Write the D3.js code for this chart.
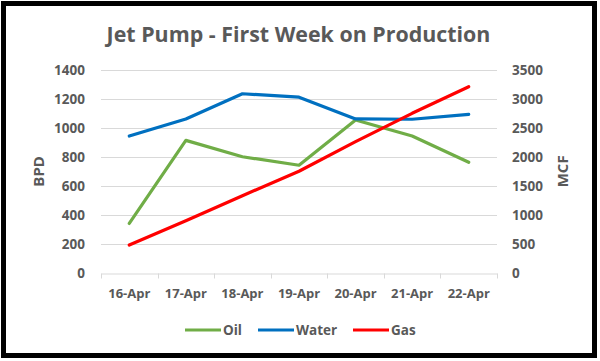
<!DOCTYPE html>
<html><head><meta charset="utf-8">
<script src="https://cdn.jsdelivr.net/npm/d3@7"></script>
<style>body{margin:0;background:#fff}svg{display:block}text{font-family:"Open Sans",sans-serif;font-weight:bold;fill:#595959}</style>
</head><body><svg id="c" width="600" height="361"></svg>
<script>
const categories = ["16-Apr","17-Apr","18-Apr","19-Apr","20-Apr","21-Apr","22-Apr"];
const oil = [340, 914, 801, 742, 1055, 944, 763];
const water = [944, 1062, 1236, 1212, 1062, 1060, 1094];
const gas = [478, 898, 1330, 1751, 2262, 2752, 3212];
const leftTicks = [0,200,400,600,800,1000,1200,1400];
const rightTicks = [0,500,1000,1500,2000,2500,3000,3500];
const title = "Jet Pump - First Week on Production";

const svg = d3.select("#c");
const L = 101, R = 497, T = 70, B = 272.7;
const x = d3.scaleBand().domain(categories).range([L, R]);
const yL = d3.scaleLinear().domain([0,1400]).range([B, T]);
const yR = d3.scaleLinear().domain([0,3500]).range([B, T]);

svg.append("rect").attr("x",3.5).attr("y",3.5).attr("width",591).attr("height",352)
  .attr("fill","#fff").attr("stroke","#000").attr("stroke-width",5);

svg.append("text").attr("x",298.5).attr("y",41.5).attr("text-anchor","middle")
  .attr("font-size",21.4).text(title);

// gridlines
svg.append("g").selectAll("line").data(leftTicks.filter(d=>d>0)).join("line")
  .attr("x1",L).attr("x2",R).attr("y1",d=>Math.round(yL(d))+0.5).attr("y2",d=>Math.round(yL(d))+0.5)
  .attr("stroke","#d9d9d9").attr("stroke-width",1);

// bottom axis
const xa = svg.append("g").attr("transform",`translate(0,${Math.round(B)+0.5})`)
  .call(d3.axisBottom(x).tickSize(0).tickPadding(15));
xa.select(".domain").attr("stroke","#d9d9d9");
xa.selectAll("text").attr("font-size",13).attr("font-family","Open Sans").attr("fill","#595959");
const bounds = [...categories.map(c=>x(c)), R];
xa.selectAll(".tk").data(bounds).join("line").attr("class","tk")
  .attr("x1",d=>Math.round(d)+0.5).attr("x2",d=>Math.round(d)+0.5).attr("y1",0).attr("y2",5)
  .attr("stroke","#d9d9d9");

// left axis labels
const la = svg.append("g").attr("transform",`translate(${L},0)`)
  .call(d3.axisLeft(yL).tickValues(leftTicks).tickFormat(d3.format("d")).tickSize(0).tickPadding(16));
la.select(".domain").remove();
la.selectAll("text").attr("font-size",13.5).attr("font-family","Open Sans").attr("fill","#595959");

const ra = svg.append("g").attr("transform",`translate(${R},0)`)
  .call(d3.axisRight(yR).tickValues(rightTicks).tickFormat(d3.format("d")).tickSize(0).tickPadding(15));
ra.select(".domain").remove();
ra.selectAll("text").attr("font-size",13.5).attr("font-family","Open Sans").attr("fill","#595959");

svg.append("text").attr("transform",`translate(43.5,${(T+B)/2}) rotate(-90)`).attr("text-anchor","middle")
  .attr("font-size",15).text("BPD");
svg.append("text").attr("transform",`translate(568,${(T+B)/2}) rotate(-90)`).attr("text-anchor","middle")
  .attr("font-size",15).text("MCF");

const cx = c => x(c) + x.bandwidth()/2;
const series = [
  {name:"Oil", vals:oil, y:yL, color:"#70ad47"},
  {name:"Water", vals:water, y:yL, color:"#0070c0"},
  {name:"Gas", vals:gas, y:yR, color:"#ff0000"}
];
series.forEach(s=>{
  const line = d3.line().x((d,i)=>cx(categories[i])).y(d=>s.y(d));
  svg.append("path").attr("d",line(s.vals)).attr("fill","none").attr("stroke",s.color)
    .attr("stroke-width",3.2).attr("stroke-linejoin","round").attr("stroke-linecap","round");
});

// legend
const lg = [{s:series[0], x:185},{s:series[1], x:258},{s:series[2], x:353}];
lg.forEach(o=>{
  svg.append("line").attr("x1",o.x).attr("x2",o.x+36).attr("y1",330).attr("y2",330)
    .attr("stroke",o.s.color).attr("stroke-width",3.2);
  svg.append("text").attr("x",o.x+38).attr("y",335).attr("font-size",13.5).text(o.s.name);
});
</script></body></html>
